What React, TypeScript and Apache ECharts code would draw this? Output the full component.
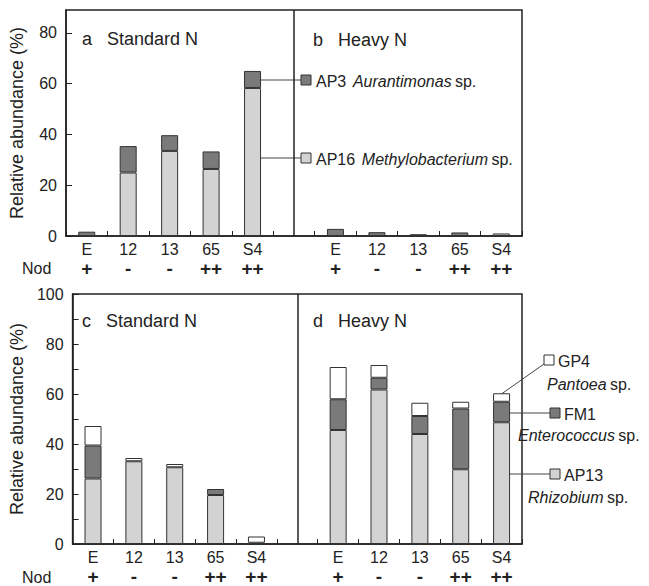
import React, { useEffect, useRef } from "react";
import * as echarts from "echarts";

const strains = ["E", "12", "13", "65", "S4"];
const nodulation = ["+", "-", "-", "++", "++"];
const gapName = "gap";

// Panel a / b (Alphaproteobacteria isolates)
const ap16StandardN = [null, 25.0, 33.5, 26.4, 58.3];
const ap3StandardN = [1.7, 10.4, 6.2, 6.9, 6.7];
const ap16HeavyN = [null, null, null, null, 1.0];
const ap3HeavyN = [2.8, 1.5, 0.7, 1.4, null];

// Panel c / d
const ap13StandardN = [26.2, 33.1, 30.7, 19.6, 0.5];
const fm1StandardN = [13.2, null, null, 2.4, null];
const gp4StandardN = [7.8, 1.3, 1.3, null, 2.5];
const ap13HeavyN = [45.6, 61.8, 44.0, 29.9, 48.7];
const fm1HeavyN = [12.3, 4.7, 7.2, 24.3, 8.2];
const gp4HeavyN = [12.9, 5.1, 5.3, 2.7, 3.4];

const topTicks = [0, 20, 40, 60, 80];
const bottomTicks = [0, 20, 40, 60, 80, 100];

const FONT = "Liberation Sans, Arial, sans-serif";
const LIGHT = "#d3d3d3";
const DARK = "#7a7a7a";
const WHITE = "#ffffff";
const EDGE = "#333333";
const INK = "#222222";

const xCats = [...strains, gapName, ...strains];
const join = (a: (number | null)[], b: (number | null)[]) =>
  [...a, null, ...b].map((v) => (v === null ? "-" : v));

export default function App() {
  const ref = useRef<HTMLDivElement>(null);
  useEffect(() => {
    if (!ref.current) return;
    const chart = echarts.init(ref.current, null, { renderer: "svg" });

    const xAxisBase = (gridIndex: number) => ({
      type: "category",
      gridIndex,
      data: xCats,
      boundaryGap: true,
      axisLine: { show: true, lineStyle: { color: INK, width: 1.5 } },
      axisTick: { show: true, inside: true, length: 5, lineStyle: { color: INK, width: 1 } },
      axisLabel: {
        interval: 0,
        margin: 4,
        fontFamily: FONT,
        formatter: (value: string, idx: number) => {
          if (value === gapName) return "";
          const k = idx > 5 ? idx - 6 : idx;
          return `{c|${value}}\n{n|${nodulation[k]}}`;
        },
        rich: {
          c: { fontSize: 16, fontFamily: FONT, color: INK, lineHeight: 19 },
          n: { fontSize: 19, fontWeight: "bold", fontFamily: FONT, color: INK, lineHeight: 19 },
        },
      },
      splitLine: { show: false },
    });

    const yAxisBase = (gridIndex: number, max: number, ticks: number[], minor: boolean) => ({
      type: "value",
      gridIndex,
      min: 0,
      max,
      interval: 20,
      name: "Relative abundance (%)",
      nameLocation: "middle",
      nameGap: 40,
      nameRotate: 90,
      nameTextStyle: { fontSize: 18, fontFamily: FONT, color: INK },
      axisLine: { show: true, lineStyle: { color: INK, width: 1.5 } },
      axisTick: { show: true, inside: true, length: 6, lineStyle: { color: INK } },
      minorTick: { show: minor, splitNumber: 2, length: 6, lineStyle: { color: INK } },
      axisLabel: {
        fontSize: 16,
        fontFamily: FONT,
        color: INK,
        margin: 9,
        showMaxLabel: ticks.includes(max),
        formatter: (v: number) => (ticks.includes(v) ? String(v) : ""),
      },
      splitLine: { show: false },
      minorSplitLine: { show: false },
    });

    const divider = {
      symbol: "none",
      silent: true,
      label: { show: false },
      lineStyle: { color: INK, width: 1.5, type: "solid" },
      data: [{ xAxis: gapName }],
    };

    const bar = (
      name: string,
      data: (number | string)[],
      color: string,
      stack: string,
      axis: number,
      extra: any = {}
    ) => ({
      type: "bar",
      name,
      data,
      stack,
      xAxisIndex: axis,
      yAxisIndex: axis,
      barWidth: 17,
      itemStyle: { color, borderColor: EDGE, borderWidth: 1 },
      ...extra,
    });

    const legendText = (x: number, y: number, code: string, genus: string, inline = true) => ({
      type: "text",
      x,
      y,
      style: {
        text: inline ? `{n|${code}}  {i|${genus}} {n|sp.}` : `{n|${code}}`,
        verticalAlign: "middle",
        rich: {
          n: { fontSize: 16, fontFamily: FONT, fill: INK },
          i: { fontSize: 16, fontFamily: FONT, fontStyle: "italic", fill: INK },
        },
      },
    });
    const genusText = (x: number, y: number, genus: string) => ({
      type: "text",
      x,
      y,
      style: {
        text: `{i|${genus}} {n|sp.}`,
        verticalAlign: "middle",
        rich: {
          n: { fontSize: 16, fontFamily: FONT, fill: INK },
          i: { fontSize: 16, fontFamily: FONT, fontStyle: "italic", fill: INK },
        },
      },
    });
    const square = (x: number, y: number, fill: string) => ({
      type: "rect",
      shape: { x: x, y: y - 5, width: 10, height: 10 },
      style: { fill, stroke: EDGE, lineWidth: 1 },
    });
    const leader = (x1: number, y1: number, x2: number, y2: number) => ({
      type: "line",
      shape: { x1, y1, x2, y2 },
      style: { stroke: "#444", lineWidth: 1 },
    });
    const title = (x: number, y: number, t: string) => ({
      type: "text",
      x,
      y,
      style: { text: t, fontSize: 18, fontFamily: FONT, fill: INK, verticalAlign: "middle" },
    });

    chart.setOption({
      animation: false,
      backgroundColor: "#ffffff",
      grid: [
        { left: 60, top: 10, width: 462, height: 226, show: true, borderColor: INK, borderWidth: 1.5, backgroundColor: "transparent" },
        { left: 60, top: 294, width: 462, height: 252, show: true, borderColor: INK, borderWidth: 1.5, backgroundColor: "transparent" },
      ],
      xAxis: [xAxisBase(0), xAxisBase(1)],
      yAxis: [yAxisBase(0, 89, topTicks, false), yAxisBase(1, 100, bottomTicks, true)],
      series: [
        bar("AP16 Methylobacterium sp.", join(ap16StandardN, ap16HeavyN), LIGHT, "top", 0, { markLine: divider }),
        bar("AP3 Aurantimonas sp.", join(ap3StandardN, ap3HeavyN), DARK, "top", 0),
        bar("AP13 Rhizobium sp.", join(ap13StandardN, ap13HeavyN), LIGHT, "bottom", 1, { markLine: divider }),
        bar("FM1 Enterococcus sp.", join(fm1StandardN, fm1HeavyN), DARK, "bottom", 1),
        bar("GP4 Pantoea sp.", join(gp4StandardN, gp4HeavyN), WHITE, "bottom", 1),
      ],
      graphic: [
        title(82, 39, "a   Standard N"),
        title(313, 40, "b   Heavy N"),
        title(82, 321, "c   Standard N"),
        title(313, 321, "d   Heavy N"),
        { type: "text", x: 22, y: 268, style: { text: "Nod", fontSize: 16, fontFamily: FONT, fill: INK, verticalAlign: "middle" } },
        { type: "text", x: 22, y: 577, style: { text: "Nod", fontSize: 16, fontFamily: FONT, fill: INK, verticalAlign: "middle" } },
        // top annotations
        leader(250, 80, 301, 80),
        square(301, 80, DARK),
        legendText(316, 81, "AP3", "Aurantimonas"),
        leader(250, 158, 301, 158),
        square(301, 158, LIGHT),
        legendText(316, 159, "AP16", "Methylobacterium"),
        // bottom annotations
        leader(500, 395, 544, 364),
        square(544, 360, WHITE),
        legendText(558, 361, "GP4", "", false),
        genusText(547, 384, "Pantoea"),
        leader(500, 413, 550, 413),
        square(550, 413, DARK),
        legendText(564, 414, "FM1", "", false),
        genusText(518, 435, "Enterococcus"),
        leader(500, 474, 550, 474),
        square(550, 474, LIGHT),
        legendText(564, 475, "AP13", "", false),
        genusText(528, 497, "Rhizobium"),
      ],
    });
    return () => chart.dispose();
  }, []);
  return (
    <div
      ref={ref}
      style={{ position: "fixed", left: 0, top: 0, width: 649, height: 586, background: "#fff" }}
    />
  );
}
